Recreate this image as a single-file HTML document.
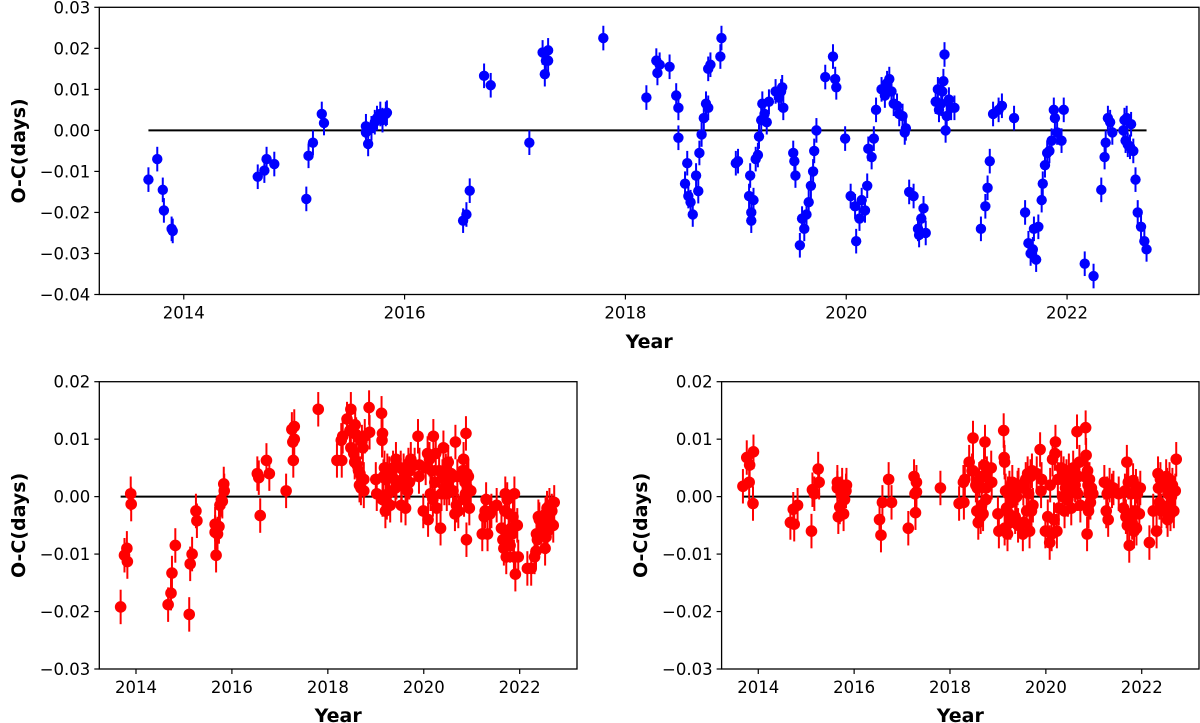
<!DOCTYPE html>
<html><head><meta charset="utf-8"><style>
body{margin:0;background:#fff;}
svg{display:block;font-family:"DejaVu Sans","Liberation Sans",sans-serif;}
</style></head><body>
<svg id="fig" width="1200" height="723" viewBox="0 0 1200 723"></svg>
<script>
const years=[2013.68,2013.76,2013.81,2013.82,2013.89,2013.90,
2014.67,2014.73,2014.75,2014.82,
2015.11,2015.13,2015.17,2015.25,2015.27,
2015.65,2015.65,2015.67,2015.70,2015.73,2015.75,2015.78,2015.80,2015.83,2015.84,
2016.53,2016.56,2016.59,2016.72,2016.78,
2017.13,2017.25,2017.27,2017.28,2017.30,2017.30,
2017.80,
2018.19,2018.28,2018.29,2018.31,2018.40,2018.46,2018.48,2018.48,2018.54,2018.56,2018.57,2018.59,2018.61,2018.64,2018.66,2018.67,2018.69,2018.71,2018.73,2018.75,2018.75,2018.77,2018.86,2018.87,
2019.00,2019.02,2019.12,2019.13,2019.14,2019.14,2019.16,2019.18,2019.20,2019.21,2019.23,2019.24,2019.26,2019.28,2019.30,2019.36,2019.39,2019.41,2019.42,2019.43,
2019.52,2019.53,2019.54,2019.58,2019.60,2019.62,2019.64,2019.66,2019.68,2019.70,2019.71,2019.73,
2019.81,2019.88,2019.90,2019.91,
2019.99,2020.04,2020.08,2020.09,2020.12,2020.14,2020.17,2020.19,2020.20,2020.23,2020.25,2020.27,2020.32,2020.35,2020.37,2020.39,2020.41,2020.43,2020.46,2020.48,2020.51,2020.53,2020.54,
2020.57,2020.61,2020.65,2020.66,2020.68,2020.70,2020.72,
2020.81,2020.83,2020.84,2020.86,2020.87,2020.88,2020.89,2020.90,2020.91,2020.93,2020.95,2020.98,
2021.22,2021.26,2021.28,2021.30,2021.33,2021.38,2021.41,2021.52,
2021.62,2021.65,2021.67,2021.69,2021.70,2021.72,2021.74,2021.77,2021.78,2021.80,2021.82,2021.84,2021.86,2021.88,2021.89,2021.91,2021.95,2021.97,
2022.16,2022.24,2022.31,2022.34,2022.35,2022.37,2022.39,2022.41,
2022.51,2022.52,2022.53,2022.54,2022.55,2022.57,2022.58,2022.60,2022.62,2022.64,2022.67,2022.70,2022.72];
const ocRaw=[-0.012,-0.007,-0.0145,-0.0195,-0.024,-0.0245,
-0.0113,-0.0098,-0.007,-0.0082,
-0.0167,-0.0062,-0.003,0.004,0.0018,
0.001,-0.0005,-0.0033,0.0005,0.002,0.003,0.004,0.0025,0.004,0.0043,
-0.022,-0.0205,-0.0147,0.0133,0.011,
-0.003,0.019,0.0137,0.017,0.0195,0.017,
0.0225,
0.008,0.017,0.014,0.016,0.0155,0.0085,0.0055,-0.0018,-0.013,-0.008,-0.016,-0.0175,-0.0205,-0.011,-0.0148,-0.0055,-0.001,0.003,0.0065,0.0055,0.015,0.016,0.018,0.0225,
-0.008,-0.0075,-0.016,-0.011,-0.02,-0.022,-0.017,-0.007,-0.006,-0.0015,0.0025,0.0065,0.004,0.002,0.007,0.0095,0.008,0.0095,0.0105,0.0055,
-0.0055,-0.0075,-0.011,-0.028,-0.0215,-0.024,-0.0205,-0.0175,-0.0135,-0.01,-0.005,0.0,
0.013,0.018,0.0125,0.0105,
-0.002,-0.016,-0.0185,-0.027,-0.0215,-0.017,-0.0195,-0.0135,-0.0045,-0.0065,-0.002,0.005,0.01,0.0085,0.0115,0.0125,0.0095,0.0065,0.006,0.004,0.0035,-0.0005,0.0005,
-0.015,-0.016,-0.024,-0.0255,-0.0215,-0.019,-0.025,
0.007,0.01,0.005,0.0065,0.0095,0.012,0.0185,0.0,0.0035,0.0075,0.0055,0.0055,
-0.024,-0.0185,-0.014,-0.0075,0.004,0.005,0.006,0.003,
-0.02,-0.0275,-0.03,-0.029,-0.024,-0.0315,-0.0235,-0.017,-0.013,-0.0085,-0.0055,-0.005,-0.0025,0.005,0.003,-0.0005,-0.0025,0.005,
-0.0325,-0.0355,-0.0145,-0.0065,-0.003,0.003,0.002,-0.0005,
0.0,0.0025,-0.0025,0.003,-0.0035,-0.004,0.0015,-0.005,-0.012,-0.02,-0.0235,-0.027,-0.029];
const ocTrend=[-0.0192,-0.0102,-0.009,-0.0113,0.0005,-0.0013,
-0.0188,-0.0168,-0.0133,-0.0085,
-0.0205,-0.0117,-0.010,-0.0025,-0.0042,
-0.0048,-0.0062,-0.0102,-0.0065,-0.0052,-0.0015,-0.0005,-0.0008,0.0022,0.001,
0.004,0.0033,-0.0033,0.0063,0.004,
0.001,0.0117,0.0095,0.0063,0.0122,0.010,
0.0152,
0.0063,0.0098,0.0063,0.0105,0.0135,0.0115,0.0152,0.0085,0.0075,0.006,0.0125,0.0108,0.0055,0.0045,0.002,0.004,0.0015,0.0095,0.0085,0.003,0.001,0.0105,0.0155,0.0112,
0.003,0.0005,0.0145,0.0098,0.011,-0.0005,0.0035,0.005,-0.0025,0.003,-0.001,0.0045,0.0005,0.004,-0.0015,0.005,0.003,0.0015,0.0065,0.0025,
0.005,-0.0015,0.002,0.0045,0.0035,-0.002,0.004,0.001,0.0055,0.0025,0.0045,0.0065,
0.0055,0.0105,0.0035,0.0055,
-0.0025,0.005,0.0075,-0.004,0.0065,0.0005,0.0045,-0.0005,0.0105,0.0025,0.0075,-0.002,0.0045,-0.0055,0.0005,0.0035,0.0085,0.0015,0.0045,0.0005,0.006,0.0015,0.003,
0.004,0.001,-0.003,0.0095,-0.0015,0.0035,-0.0025,
0.0045,0.0065,-0.0005,0.0025,0.0005,0.011,-0.0075,0.004,0.0015,0.0035,-0.002,0.001,
-0.0065,-0.0035,-0.0025,-0.0005,-0.0065,-0.003,-0.0025,-0.0015,
-0.0055,-0.0075,-0.009,-0.0025,0.0005,-0.0105,-0.0005,-0.006,-0.003,-0.0085,-0.0055,-0.0065,-0.0035,-0.0105,0.0005,-0.0135,-0.005,-0.0105,
-0.0125,-0.0125,-0.0105,-0.0095,-0.0065,-0.0075,-0.0035,-0.004,
-0.0055,-0.0045,-0.009,-0.003,-0.007,-0.002,-0.006,-0.0035,-0.0015,-0.0045,-0.0025,-0.005,-0.001];
const ocResid=[0.0018,0.0068,0.0025,0.0055,-0.0012,0.0078,
-0.0045,-0.0022,-0.0048,-0.0015,
-0.006,0.0012,0.0005,0.0048,0.0025,
0.0015,0.0025,-0.0035,-0.0018,0.0005,0.002,-0.003,-0.0005,0.001,0.002,
-0.004,-0.0067,-0.001,0.003,-0.001,
-0.0055,0.0035,0.0005,-0.0028,0.0025,0.0008,
0.0015,
-0.0012,0.0025,-0.001,0.003,0.006,0.0045,0.0102,0.0045,0.002,-0.0025,0.0015,-0.0045,0.003,-0.0035,-0.0015,0.0035,-0.003,0.0055,0.0095,0.0015,-0.0005,0.004,0.005,0.0025,
-0.003,-0.006,0.0115,0.0068,0.006,-0.0055,0.001,-0.002,-0.0065,0.0005,-0.003,0.0015,-0.0045,-0.001,0.0025,-0.0035,0.0,0.0015,-0.005,0.002,
-0.0065,0.0015,-0.0045,0.003,-0.0025,0.004,0.0005,-0.006,0.0035,-0.0025,0.0045,-0.0015,
0.004,0.0082,0.001,0.003,
-0.006,-0.0035,-0.008,0.002,-0.0065,0.0065,-0.004,0.0075,0.0095,-0.006,0.003,-0.002,0.005,0.0,0.004,-0.0025,0.0015,0.0035,-0.0005,0.0045,0.0025,-0.002,0.001,
0.005,0.002,0.0113,0.0005,0.0035,0.006,-0.0015,
0.0035,0.012,0.0072,-0.0065,0.0045,0.002,-0.0025,0.0005,0.003,-0.001,0.0015,0.0005,
0.0025,-0.0025,0.0005,-0.004,0.002,0.001,0.0015,0.0005,
-0.002,0.001,-0.0035,0.006,-0.005,0.0025,-0.0085,-0.003,0.0005,-0.0045,0.0028,-0.006,-0.0025,0.0018,-0.0055,0.0005,-0.003,0.0015,
-0.008,-0.0025,-0.006,0.004,0.0015,-0.001,0.003,-0.0025,
0.0035,-0.0025,0.002,-0.004,0.0005,-0.0015,0.003,-0.003,0.0,0.002,-0.0025,0.001,0.0065];
const xTicks=[2014,2016,2018,2020,2022];
const yTicksTop=[0.03,0.02,0.01,0.00,-0.01,-0.02,-0.03,-0.04];
const yTicksBot=[0.02,0.01,0.00,-0.01,-0.02,-0.03];
const errTop=0.003, errBot=0.003;

const NS="http://www.w3.org/2000/svg";
const svg=document.getElementById('fig');
function mk(tag,attrs,parent){const e=document.createElementNS(NS,tag);for(const k in attrs)e.setAttribute(k,attrs[k]);(parent||svg).appendChild(e);return e;}
function fmt(v){const s=Math.abs(v).toFixed(2);return (v<-1e-9?'\u2212':'')+s;}

function panel(name,box,ylim,yticks,ys,color,err,r,xlabelY,ylabelX){
  const xlim=[2013.235,2023.195];
  const sx=v=>box.x0+(v-xlim[0])/(xlim[1]-xlim[0])*(box.x1-box.x0);
  const sy=v=>box.y1-(v-ylim[0])/(ylim[1]-ylim[0])*(box.y1-box.y0);
  const g=mk('g',{});
  
  
  // zero line
  const zl=mk('line',{x1:sx(years[0]),x2:sx(years[years.length-1]),y1:sy(0),y2:sy(0),stroke:'#000','stroke-width':2},g);
  
  
  const pts=mk('g',{},g);
  
  
  const n=Math.min(years.length,ys.length);
  for(let i=0;i<n;i++){
    const cx=sx(years[i]),cy=sy(ys[i]);
    const eb=mk('line',{x1:cx,x2:cx,y1:sy(ys[i]+err),y2:sy(ys[i]-err),stroke:color,'stroke-width':2},pts);
    
    
    const c=mk('circle',{cx:cx,cy:cy,r:r,fill:color},pts);
    
    
  }
  const fr=mk('rect',{x:box.x0,y:box.y0,width:box.x1-box.x0,height:box.y1-box.y0,fill:'none',stroke:'#000','stroke-width':1.3},g);
  
  
  yticks.forEach(v=>{
    const y=sy(v);
    mk('line',{x1:box.x0-5,x2:box.x0,y1:y,y2:y,stroke:'#000','stroke-width':1.2},g);
    const t=mk('text',{x:box.x0-9,y:y+6,'text-anchor':'end','font-size':16.5,fill:'#000'},g);
    t.textContent=fmt(v);
    
    
  });
  xTicks.forEach(v=>{
    const x=sx(v);
    mk('line',{x1:x,x2:x,y1:box.y1,y2:box.y1+5,stroke:'#000','stroke-width':1.2},g);
    const t=mk('text',{x:x,y:box.y1+24,'text-anchor':'middle','font-size':16.5,fill:'#000'},g);
    t.textContent=v;
    
    
  });
  const xl=mk('text',{x:(box.x0+box.x1)/2,y:xlabelY,'text-anchor':'middle','font-size':19,'font-weight':'bold',fill:'#000'},g);
  xl.textContent='Year';
  
  
  const cy=(box.y0+box.y1)/2;
  const yl=mk('text',{x:ylabelX,y:cy,'text-anchor':'middle','font-size':19,'font-weight':'bold',fill:'#000',transform:`rotate(-90 ${ylabelX} ${cy})`},g);
  yl.textContent='O-C(days)';
  
  
}
panel('top-panel',{x0:99.3,x1:1199,y0:7.3,y1:294.5},[-0.04,0.03],yTicksTop,ocRaw,'#0000ff',errTop,5.2,348,25);
panel('bottom-left-panel',{x0:99.3,x1:577,y0:381.7,y1:669},[-0.03,0.02],yTicksBot,ocTrend,'#ff0000',errBot,5.8,722,25);
panel('bottom-right-panel',{x0:721.6,x1:1199,y0:381.7,y1:669},[-0.03,0.02],yTicksBot,ocResid,'#ff0000',errBot,5.8,722,647);
</script>
</body></html>
